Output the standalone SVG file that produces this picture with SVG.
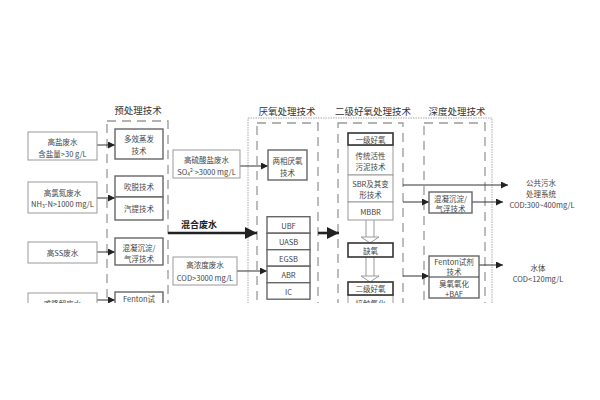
<svg xmlns="http://www.w3.org/2000/svg" width="600" height="400" viewBox="0 0 600 400">
<style>
text{font-family:"Noto Sans CJK SC","Liberation Sans",sans-serif;font-size:7.5px;fill:#444;text-anchor:middle;dominant-baseline:central}
.h{font-size:9.5px;fill:#333}
.b{font-size:9px;font-weight:bold;fill:#222}
.in{fill:#fff;stroke:#999;stroke-width:1}
.pb{fill:#fff;stroke:#666;stroke-width:1.4}
.tk{fill:#fff;stroke:#333;stroke-width:1.6}
.dash{fill:none;stroke:#999;stroke-width:1.3;stroke-dasharray:9 6}
.dot{fill:none;stroke:#aaa;stroke-width:1;stroke-dasharray:1.5 1}
.ln{fill:none;stroke:#333;stroke-width:1}
.th{fill:none;stroke:#222;stroke-width:2.6}
.dl{fill:none;stroke:#999;stroke-width:1}
</style>
<defs>
<marker id="a" viewBox="0 0 10 10" refX="10" refY="5" markerWidth="7" markerHeight="7" markerUnits="userSpaceOnUse" orient="auto"><path d="M0,0L10,5L0,10z" fill="#222"/></marker>
<marker id="A" viewBox="0 0 10 10" refX="10" refY="5" markerWidth="12" markerHeight="12" markerUnits="userSpaceOnUse" orient="auto"><path d="M0,0L10,5L0,10z" fill="#222"/></marker>
</defs>
<rect width="600" height="400" fill="#fff"/>
<g id="frames">
<rect class="dot" x="248" y="118" width="244" height="200"/>
<rect class="dash" x="107" y="121" width="61" height="200"/>
<rect class="dash" x="257" y="123" width="61" height="200"/>
<rect class="dash" x="338" y="123" width="65" height="200"/>
<rect class="dash" x="424" y="123" width="61" height="200"/>
<text class="h" x="138" y="110">预处理技术</text>
<text class="h" x="287" y="111">厌氧处理技术</text>
<text class="h" x="373" y="111">二级好氧处理技术</text>
<text class="h" x="457" y="111">深度处理技术</text>
</g>
<g id="connectors">
<path class="ln" d="M97,145H115" marker-end="url(#a)"/>
<path class="ln" d="M97,198H115" marker-end="url(#a)"/>
<path class="ln" d="M97,252H115" marker-end="url(#a)"/>
<path class="ln" d="M97,300H115" marker-end="url(#a)"/>
<path class="ln" d="M240,166H268" marker-end="url(#a)"/>
<path class="th" d="M168,233H257" marker-end="url(#A)"/>
<path class="ln" d="M237,271H267" marker-end="url(#a)"/>
<path class="th" d="M318,233H339" marker-end="url(#A)"/>
<path class="dl" d="M366,220V237M374,220V237M361,237H379L370,243Z" fill="#fff"/>
<path class="dl" d="M366,257V276M374,257V276M361,276H379L370,282Z" fill="#fff"/>
<path class="ln" d="M403,185H508" stroke-width="1.3" marker-end="url(#a)"/>
<path class="ln" d="M403,202H429" marker-end="url(#a)"/>
<path class="ln" d="M472,202H503" marker-end="url(#a)"/>
<path class="ln" d="M403,276H429" marker-end="url(#a)"/>
<path class="ln" d="M479,265H503" marker-end="url(#a)"/>
</g>
<g id="in1"><rect class="in" x="28" y="132" width="69" height="28"/><text x="62.5" y="141">高盐废水</text><text x="62.5" y="153">含盐量&gt;30 g/L</text></g>
<g id="in2"><rect class="in" x="28" y="182" width="69" height="31"/><text x="62.5" y="192">高氯氮废水</text><text x="62.5" y="203">NH<tspan font-size="5" dy="1.5">3</tspan><tspan dy="-1.5">-N&gt;1000 mg/L</tspan></text></g>
<g id="in3"><rect class="in" x="28" y="242" width="69" height="21"/><text x="62.5" y="252">高SS废水</text></g>
<g id="in4"><rect class="in" x="28" y="293" width="69" height="25"/><text x="62.5" y="303">难降解废水</text></g>
<g id="p1"><rect class="pb" x="115" y="129" width="48" height="30"/><text x="139" y="138">多效蒸发</text><text x="139" y="150">技术</text></g>
<g id="p2"><rect class="pb" x="115" y="176" width="48" height="21"/><text x="139" y="186">吹脱技术</text></g>
<g id="p3"><rect class="pb" x="115" y="197" width="48" height="23"/><text x="139" y="208">汽提技术</text></g>
<g id="p4"><rect class="pb" x="115" y="238" width="48" height="27"/><text x="139" y="247">混凝沉淀/</text><text x="139" y="258">气浮技术</text></g>
<g id="p5"><rect class="pb" x="115" y="292" width="48" height="26"/><text x="139" y="298">Fenton试</text></g>
<g id="m1"><rect class="in" x="173" y="150" width="67" height="28"/><text x="206.5" y="159">高硫酸盐废水</text><text x="206.5" y="171">SO<tspan font-size="5" dy="1.5">4</tspan><tspan font-size="5" dy="-4">2-</tspan><tspan dy="2.5">&gt;3000 mg/L</tspan></text></g>
<g id="mix"><text class="b" x="199" y="224">混合废水</text></g>
<g id="m2"><rect class="in" x="173" y="257" width="64" height="28"/><text x="205" y="264">高浓度废水</text><text x="205" y="277">COD&gt;3000 mg/L</text></g>
<g id="an1"><rect class="pb" x="268" y="150" width="39" height="30"/><text x="287.5" y="160">两相厌氧</text><text x="287.5" y="172">技术</text></g>
<g id="an2">
<rect class="pb" x="267" y="216.7" width="43" height="16.5"/><text x="288.5" y="225">UBF</text>
<rect class="pb" x="267" y="233.2" width="43" height="16.5"/><text x="288.5" y="241.5">UASB</text>
<rect class="pb" x="267" y="249.7" width="43" height="16.5"/><text x="288.5" y="258">EGSB</text>
<rect class="pb" x="267" y="266.2" width="43" height="16.5"/><text x="288.5" y="274.5">ABR</text>
<rect class="pb" x="267" y="282.7" width="43" height="16.5"/><text x="288.5" y="291">IC</text>
</g>
<g id="s1">
<rect class="in" x="348" y="145" width="45" height="30"/><text x="370.5" y="155">传统活性</text><text x="370.5" y="166">污泥技术</text>
<rect class="in" x="348" y="175" width="45" height="27"/><text x="370.5" y="183">SBR及其变</text><text x="370.5" y="194">形技术</text>
<rect class="in" x="348" y="202" width="45" height="18"/><text x="370.5" y="211">MBBR</text>
<rect class="tk" x="348" y="133" width="45" height="12"/><text x="370.5" y="139">一级好氧</text>
</g>
<g id="s2"><rect class="tk" x="348" y="243" width="45" height="14"/><text x="370.5" y="250">缺氧</text></g>
<g id="s3"><rect class="in" x="348" y="295" width="45" height="24"/><text x="370.5" y="303">接触氧化</text><rect class="tk" x="348" y="282" width="45" height="13"/><text x="370.5" y="288.5">二级好氧</text></g>
<g id="d1"><rect class="pb" x="429" y="192" width="43" height="21"/><text x="450.5" y="198">混凝沉淀/</text><text x="450.5" y="208">气浮技术</text></g>
<g id="d2"><rect class="pb" x="429" y="256" width="50" height="42"/><path class="ln" d="M429,277H479"/><text x="454" y="261">Fenton试剂</text><text x="454" y="271">技术</text><text x="454" y="283">臭氧氧化</text><text x="454" y="293">+BAF</text></g>
<g id="o1"><text x="541" y="182">公共污水</text><text x="541" y="193">处理系统</text><text x="542" y="204">COD:300~400mg/L</text></g>
<g id="o2"><text x="538" y="267">水体</text><text x="538" y="278">COD&lt;120mg/L</text></g>
<rect x="0" y="303" width="600" height="97" fill="#fff"/>
</svg>
